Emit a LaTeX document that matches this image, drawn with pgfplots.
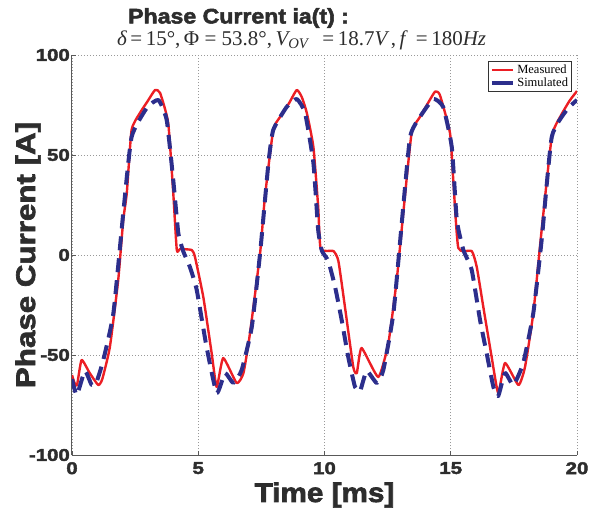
\documentclass[border=0pt]{standalone}
\usepackage{pgfplots}
\pgfplotsset{compat=1.18}
\usepackage{fontspec}
\setmainfont{Liberation Serif}
\newfontfamily\heavy{Liberation Sans}[BoldFeatures={FakeBold=2.5, FakeStretch=1.1}]
\newfontfamily\heavyY{Liberation Sans}[BoldFeatures={FakeBold=2.5, FakeStretch=1.16}]
\newfontfamily\heavyT{Liberation Sans}[BoldFeatures={FakeBold=2.5, FakeStretch=1.2}]
\definecolor{meas}{RGB}{236,30,36}
\definecolor{sim}{RGB}{44,46,140}
\definecolor{txt}{RGB}{45,45,45}
\begin{document}
\begin{tikzpicture}
\begin{axis}[
  name=ax,
  scale only axis,
  width=505pt, height=400pt,
  xmin=0, xmax=20, ymin=-100, ymax=100,
  axis lines=left,
  axis line style={-, draw=black!65, line width=1pt},
  xtick={0,5,10,15,20}, xticklabels={0,5,10,15,20},
  ytick={-100,-50,0,50,100}, yticklabels={-100,-50,0,50,100},
  tick align=inside, major tick length=4pt,
  tick style={black!65, line width=0.6pt},
  grid=major,
  major grid style={black!40, line width=0.6pt, dash pattern=on 0.8pt off 2.2pt},
  ticklabel style={font=\heavyT\bfseries\fontsize{17}{17}\selectfont, text=txt, inner sep=0pt},
  xticklabel style={anchor=north, yshift=-7pt},
  yticklabel style={anchor=east, xshift=-2pt},
  xlabel={Time [ms]},
  ylabel={Phase Current [A]},
  label style={text=txt},
  xlabel style={font=\heavy\bfseries\fontsize{27}{27}\selectfont, at={(axis description cs:0.5,-0.1)}, anchor=center},
  ylabel style={font=\heavyY\bfseries\fontsize{27}{27}\selectfont, at={(axis description cs:-0.087,0.5)}, anchor=center},
  legend style={at={(rel axis cs:0.99,0.985)}, anchor=north east,
    font=\fontsize{12.5}{12.5}\selectfont, draw=black!80, line width=0.9pt,
    inner sep=1.5pt, row sep=-1.5pt, cells={anchor=west}},
  legend image code/.code={\draw[#1, solid] (0cm,0cm) -- (0.75cm,0cm);},
  clip=true,
]
\addplot[meas, line width=2.4pt, line join=round, smooth, tension=0.3] coordinates {
(0,-60) (0.1,-64) (0.2,-65) (0.38,-52.5) (0.7,-59) (1.04,-65) (1.2,-62) (1.5,-46) (1.83,-12.5) (2.03,17.5) (2.17,31) (2.36,62.5) (2.69,71) (3.0,77) (3.29,82.5) (3.49,81) (3.81,66) (4.01,31) (4.15,2.5) (4.28,3) (4.74,2.5) (4.87,-1) (5.2,-21) (5.53,-49) (5.73,-66) (5.99,-51.5) (6.52,-64) (6.79,-59) (7.05,-39) (7.45,1) (7.64,29) (7.97,62.5) (8.24,69) (8.6,76) (8.9,82.5) (9.1,79) (9.3,71) (9.56,54) (9.75,24) (9.85,3) (10.35,2) (10.55,-3) (10.81,-26) (11.14,-56) (11.28,-59) (11.47,-46.5) (12.13,-61) (12.53,-44) (12.86,-12.5) (13.12,21) (13.45,61) (13.78,69) (14.1,76) (14.38,81.7) (14.57,80) (14.97,61) (15.1,37.5) (15.3,3.5) (15.83,2) (16.03,-6) (16.29,-26) (16.62,-51) (16.88,-69) (17.15,-54) (17.68,-65) (17.94,-56) (18.27,-29) (18.6,12.5) (19.0,59) (19.33,69) (19.7,77) (20,82)
};
\addlegendentry{Measured}
\addplot[sim, line width=4pt, dash pattern=on 14pt off 8pt, line join=round, smooth, tension=0.3] coordinates {
(0,-62) (0.19,-70) (0.51,-58) (0.78,-65) (0.97,-63.5) (1.24,-52.5) (1.64,-29) (2.03,21) (2.36,59) (2.96,73.5) (3.42,77.5) (3.75,67.5) (4.01,37.5) (4.21,11) (4.41,1.7) (4.67,-6) (4.94,-17.5) (5.33,-46) (5.73,-69) (6.06,-59) (6.39,-64) (6.72,-57.5) (7.12,-36) (7.45,1) (7.78,46) (7.97,62.5) (8.5,74) (8.9,78) (9.23,71) (9.56,46) (9.75,12.5) (9.9,2) (10.15,-3) (10.42,-16) (10.68,-32.5) (10.94,-51) (11.21,-66) (11.41,-68) (11.67,-58) (12.07,-64) (12.33,-57.5) (12.73,-29) (13.06,16) (13.39,59) (13.78,69) (14.31,78) (14.7,74) (15.04,54) (15.24,17.5) (15.5,2.5) (15.83,-7.5) (16.16,-32.5) (16.42,-49) (16.69,-66) (16.88,-70.5) (17.15,-59) (17.48,-65) (17.87,-54) (18.27,-29) (18.6,7.5) (19.0,59) (19.59,72.5) (20,77.5)
};
\addlegendentry{Simulated}
\end{axis}
\node[anchor=west, font=\heavy\bfseries\fontsize{21}{21}\selectfont, text=txt, inner sep=0pt]
  at ([xshift=56pt, yshift=37pt]ax.north west) {Phase Current ia(t) :};
\node[anchor=west, font=\fontsize{21}{21}\selectfont, text=txt, inner sep=0pt]
  at ([xshift=45pt, yshift=15pt]ax.north west)
  {{\itshape δ}\,=\,15°,\,Φ = 53.8°,\,{\itshape V}\textsubscript{\itshape OV} \ \,=\,18.7{\itshape V}\,,\,{\itshape f} \ =\,180{\itshape Hz}};
\pgfresetboundingbox
\path ([xshift=-72pt, yshift=-57pt]ax.south west) rectangle ([xshift=21pt, yshift=55pt]ax.north east);
\end{tikzpicture}
\end{document}
